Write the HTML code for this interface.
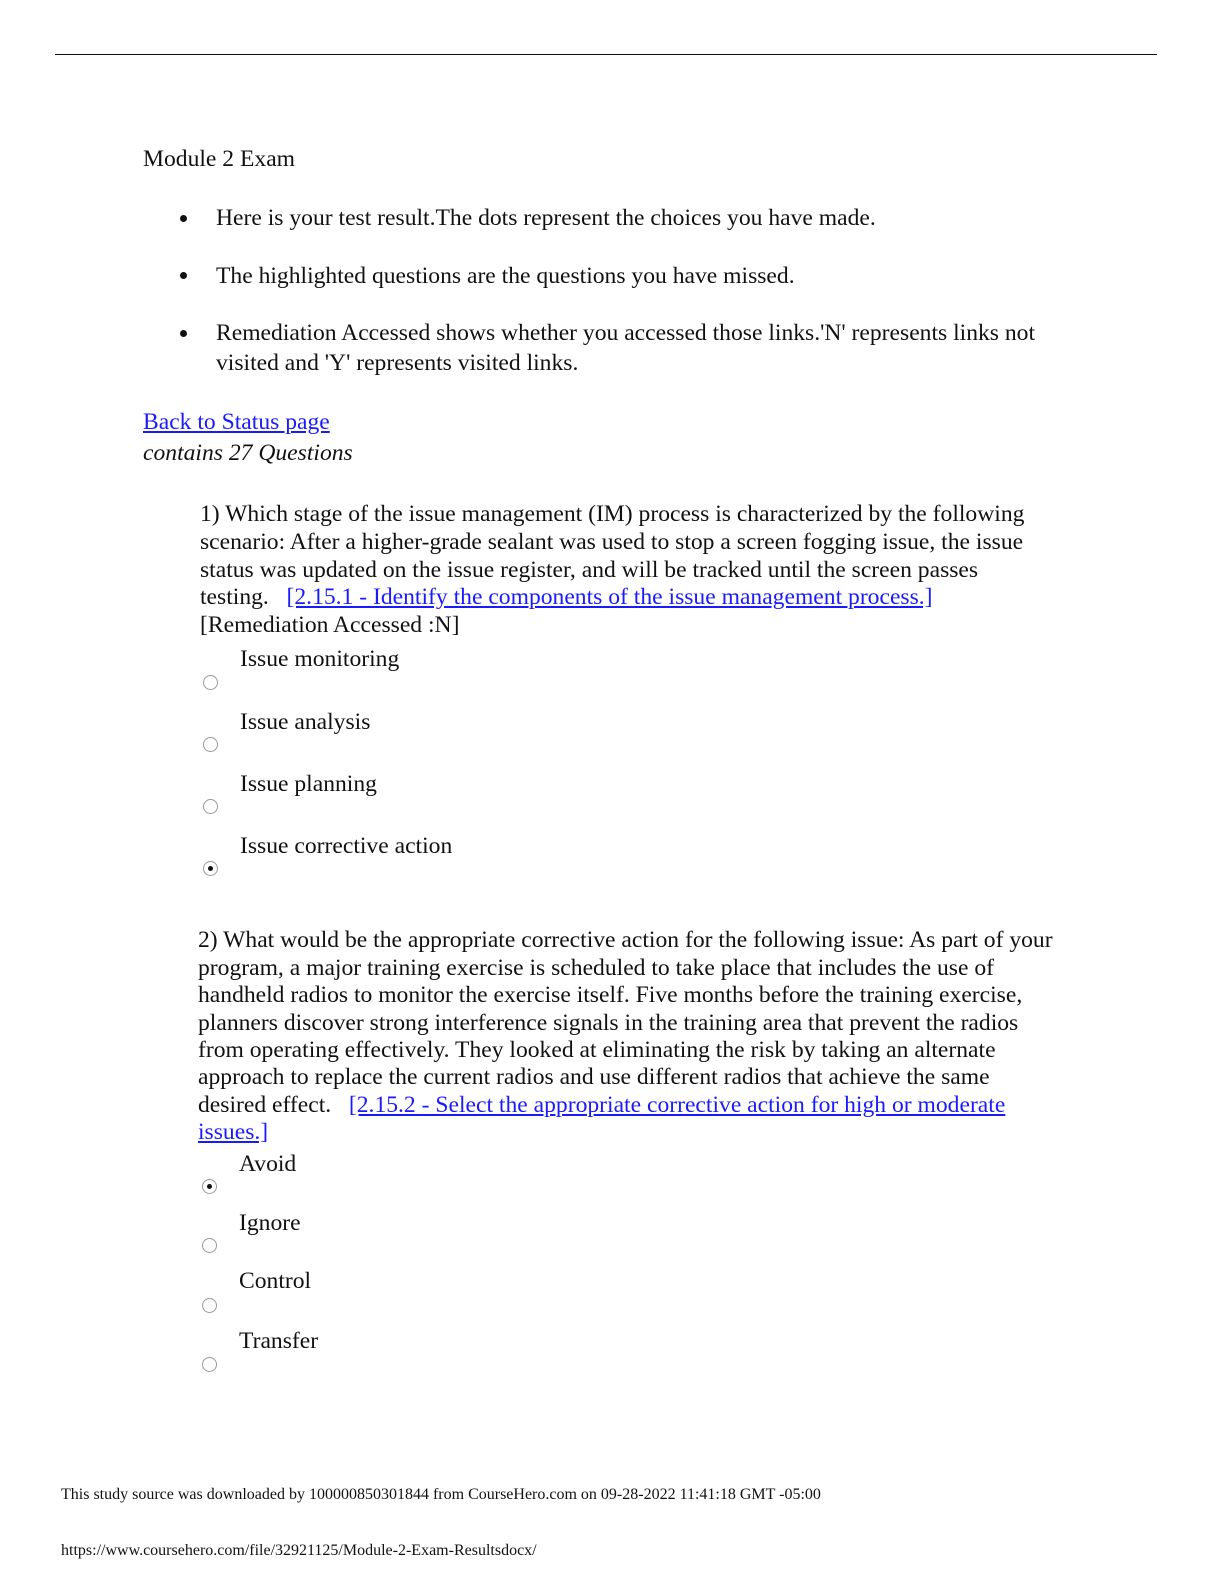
<!DOCTYPE html>
<html><head><meta charset="utf-8"><style>
body{margin:0;width:1224px;height:1584px;background:#fff;position:relative;font-family:"Liberation Serif",serif;color:#111;}
.t{position:absolute;font-size:23.6px;white-space:nowrap;line-height:26px;}
a{color:#1a1aff;text-decoration:underline;}
.r{position:absolute;width:13px;height:13px;border:1px solid #999;border-radius:50%;background:#fff;}
.r.on::after{content:"";position:absolute;left:4px;top:4px;width:5px;height:5px;border-radius:50%;background:#111;}
.dot{position:absolute;width:7px;height:7px;border-radius:50%;background:#111;}
.s{position:absolute;font-size:16px;white-space:nowrap;}
</style></head><body>
<div style="position:absolute;left:55px;top:54px;width:1102px;height:1px;background:#111"></div>
<div class="t" style="left:143px;top:146px">Module 2 Exam</div>
<div class="dot" style="left:180px;top:215px"></div>
<div class="t" style="left:216px;top:205px">Here is your test result.The dots represent the choices you have made.</div>
<div class="dot" style="left:180px;top:272px"></div>
<div class="t" style="left:216px;top:263px">The highlighted questions are the questions you have missed.</div>
<div class="dot" style="left:180px;top:330px"></div>
<div class="t" style="left:216px;top:320px">Remediation Accessed shows whether you accessed those links.'N' represents links not</div>
<div class="t" style="left:216px;top:350px">visited and 'Y' represents visited links.</div>
<div class="t" style="left:143px;top:409px"><a>Back to Status page</a></div>
<div class="t" style="left:143px;top:440px;font-style:italic">contains 27 Questions</div>
<div class="t" style="left:200px;top:501px">1) Which stage of the issue management (IM) process is characterized by the following</div>
<div class="t" style="left:200px;top:529px">scenario: After a higher-grade sealant was used to stop a screen fogging issue, the issue</div>
<div class="t" style="left:200px;top:557px">status was updated on the issue register, and will be tracked until the screen passes</div>
<div class="t" style="left:200px;top:584px">testing. &nbsp;&nbsp;<a>[2.15.1 - Identify the components of the issue management process.]</a></div>
<div class="t" style="left:200px;top:612px">[Remediation Accessed :N]</div>
<div class="t" style="left:240px;top:646px">Issue monitoring</div><div class="r" style="left:203px;top:675px"></div>
<div class="t" style="left:240px;top:709px">Issue analysis</div><div class="r" style="left:203px;top:737px"></div>
<div class="t" style="left:240px;top:771px">Issue planning</div><div class="r" style="left:203px;top:799px"></div>
<div class="t" style="left:240px;top:833px">Issue corrective action</div><div class="r on" style="left:203px;top:861px"></div>
<div class="t" style="left:198px;top:927px">2) What would be the appropriate corrective action for the following issue: As part of your</div>
<div class="t" style="left:198px;top:955px">program, a major training exercise is scheduled to take place that includes the use of</div>
<div class="t" style="left:198px;top:982px">handheld radios to monitor the exercise itself. Five months before the training exercise,</div>
<div class="t" style="left:198px;top:1010px">planners discover strong interference signals in the training area that prevent the radios</div>
<div class="t" style="left:198px;top:1037px">from operating effectively. They looked at eliminating the risk by taking an alternate</div>
<div class="t" style="left:198px;top:1064px">approach to replace the current radios and use different radios that achieve the same</div>
<div class="t" style="left:198px;top:1092px">desired effect. &nbsp;&nbsp;<a>[2.15.2 - Select the appropriate corrective action for high or moderate </a></div>
<div class="t" style="left:198px;top:1119px"><a>issues.]</a></div>
<div class="t" style="left:239px;top:1151px">Avoid</div><div class="r on" style="left:202px;top:1179px"></div>
<div class="t" style="left:239px;top:1210px">Ignore</div><div class="r" style="left:202px;top:1238px"></div>
<div class="t" style="left:239px;top:1268px">Control</div><div class="r" style="left:202px;top:1298px"></div>
<div class="t" style="left:239px;top:1328px">Transfer</div><div class="r" style="left:202px;top:1357px"></div>
<div class="s" style="left:61px;top:1486px">This study source was downloaded by 100000850301844 from CourseHero.com on 09-28-2022 11:41:18 GMT -05:00</div>
<div class="s" style="left:61px;top:1542px">https://www.coursehero.com/file/32921125/Module-2-Exam-Resultsdocx/</div>
</body></html>
